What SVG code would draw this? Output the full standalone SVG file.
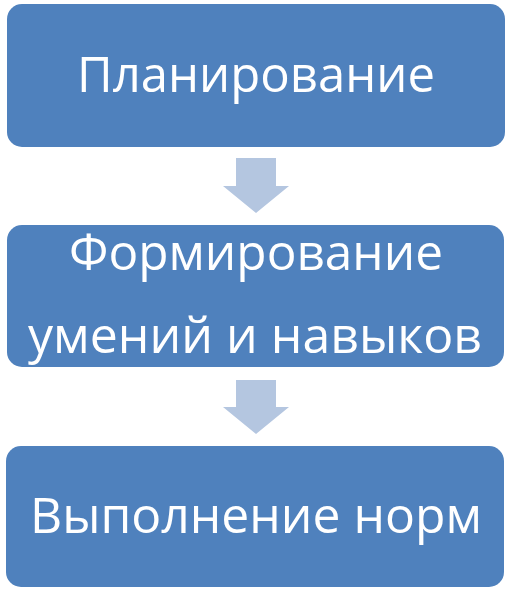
<svg xmlns="http://www.w3.org/2000/svg" width="512" height="592" viewBox="0 0 512 592">
<style>
.box{fill:#4F81BD;}
.arr{fill:#B4C6E0;}
.t{font-family:"Open Sans","Noto Sans",sans-serif;font-size:49px;fill:#FFFFFF;text-anchor:middle;}
</style>
<rect width="512" height="592" fill="#FFFFFF"/>
<g id="connectors">
<polygon class="arr" points="236,158 276,158 276,186 289,186 256,213 223,186 236,186"/>
<polygon class="arr" points="236,380 276,380 276,407 289,407 256,434 223,407 236,407"/>
</g>
<g id="node1">
<rect class="box" x="7" y="4" width="498" height="143" rx="15"/>
<text class="t" x="256" y="92" textLength="358" lengthAdjust="spacingAndGlyphs">Планирование</text>
</g>
<g id="node2">
<rect class="box" x="7" y="225" width="497" height="142" rx="15"/>
<text class="t" x="256" y="270" textLength="374" lengthAdjust="spacingAndGlyphs">Формирование</text>
<text class="t" x="255" y="353" textLength="454" lengthAdjust="spacingAndGlyphs">умений и навыков</text>
</g>
<g id="node3">
<rect class="box" x="6" y="446" width="498" height="141" rx="15"/>
<text class="t" x="256" y="533" textLength="452" lengthAdjust="spacingAndGlyphs">Выполнение норм</text>
</g>
</svg>
